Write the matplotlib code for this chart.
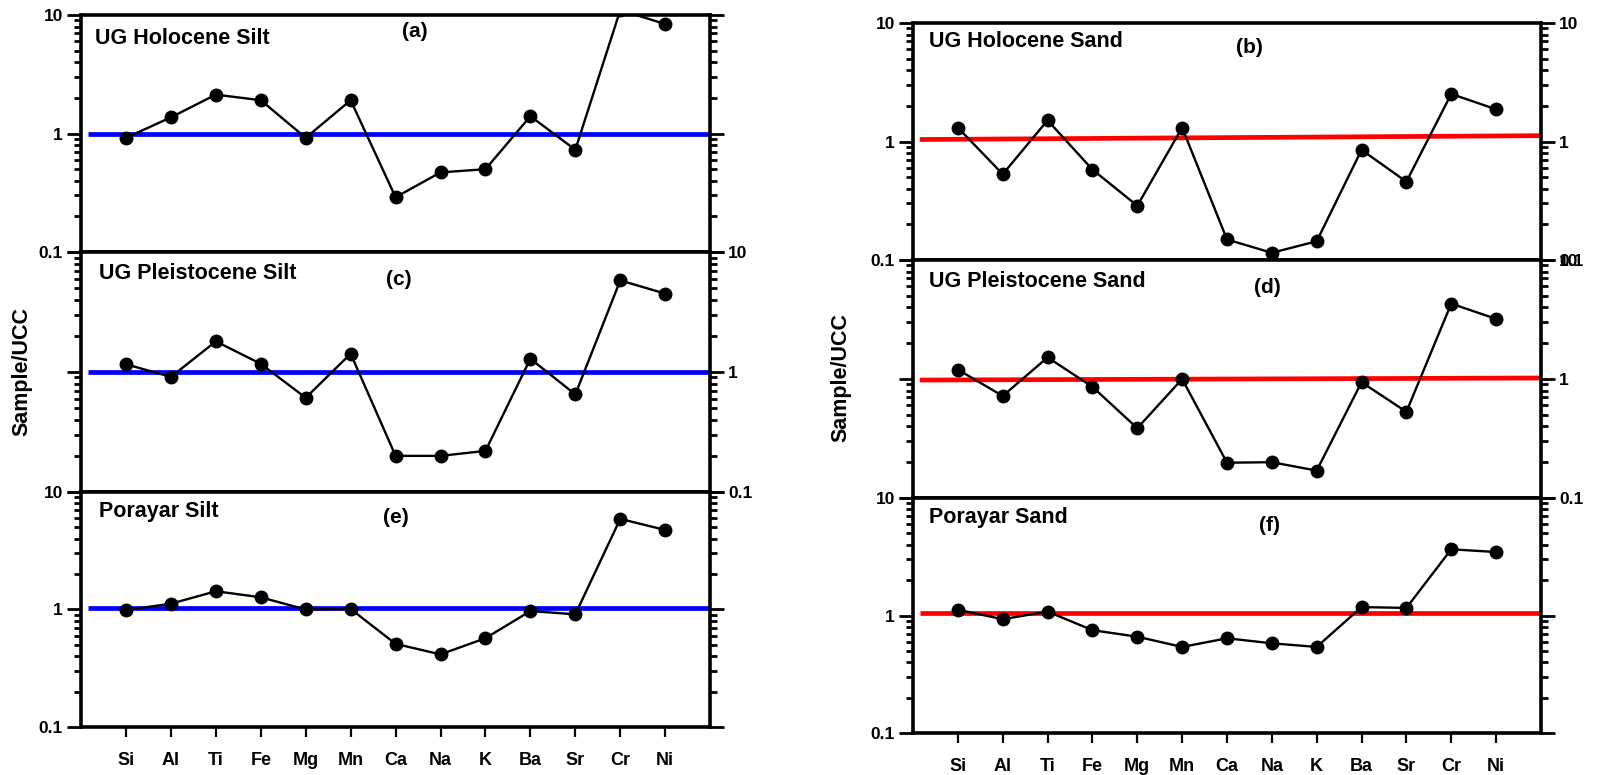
import matplotlib.pyplot as plt
from matplotlib.ticker import LogLocator, NullFormatter
import numpy as np

plt.rcParams['font.family'] = ['Liberation Sans', 'DejaVu Sans']
plt.rcParams['font.weight'] = 'bold'

elements = ['Si', 'Al', 'Ti', 'Fe', 'Mg', 'Mn', 'Ca', 'Na', 'K', 'Ba', 'Sr', 'Cr', 'Ni']

# Sample/UCC ratios
ug_holocene_silt = [0.92, 1.37, 2.13, 1.91, 0.92, 1.91, 0.29, 0.47, 0.50, 1.40, 0.73, 11.0, 8.4]
ug_pleistocene_silt = [1.16, 0.91, 1.80, 1.17, 0.61, 1.42, 0.20, 0.20, 0.22, 1.29, 0.65, 5.8, 4.5]
porayar_silt = [0.99, 1.12, 1.43, 1.27, 1.0, 1.01, 0.51, 0.415, 0.57, 0.97, 0.91, 5.9, 4.75]
ug_holocene_sand = [1.31, 0.53, 1.51, 0.58, 0.287, 1.31, 0.149, 0.115, 0.144, 0.85, 0.458, 2.52, 1.87]
ug_pleistocene_sand = [1.2, 0.72, 1.52, 0.86, 0.386, 1.0, 0.198, 0.2, 0.17, 0.94, 0.53, 4.3, 3.2]
porayar_sand = [1.12, 0.93, 1.08, 0.75, 0.66, 0.54, 0.64, 0.58, 0.54, 1.18, 1.16, 3.66, 3.47]

# UCC reference line (start, end)
ucc_a = [1.0, 1.0]
ucc_c = [1.0, 1.0]
ucc_e = [1.02, 1.02]
ucc_b = [1.04, 1.12]
ucc_d = [0.98, 1.02]
ucc_f = [1.05, 1.05]

fig = plt.figure(figsize=(15.99, 7.75), dpi=100)

# left edge, width in figure fraction
left_col = [0.0507, 0.3934]
right_col = [0.571, 0.3927]
panels = [
    # name, letter, data, ucc, colour, column, bottom, top, labelleft, labelright, xlabels, name pos, letter pos
    ('UG Holocene Silt', '(a)', ug_holocene_silt, ucc_a, 'blue', left_col, 0.6748, 0.9806, True, False, False,
     (0.022, 0.90), (0.53, 0.93)),
    ('UG Pleistocene Silt', '(c)', ug_pleistocene_silt, ucc_c, 'blue', left_col, 0.3652, 0.6748, False, True, False,
     (0.028, 0.91), (0.505, 0.885)),
    ('Porayar Silt', '(e)', porayar_silt, ucc_e, 'blue', left_col, 0.0619, 0.3652, True, False, True,
     (0.028, 0.915), (0.50, 0.89)),
    ('UG Holocene Sand', '(b)', ug_holocene_sand, ucc_b, 'red', right_col, 0.6645, 0.9703, True, True, False,
     (0.025, 0.924), (0.535, 0.895)),
    ('UG Pleistocene Sand', '(d)', ug_pleistocene_sand, ucc_d, 'red', right_col, 0.3574, 0.6645, False, True, False,
     (0.025, 0.91), (0.565, 0.883)),
    ('Porayar Sand', '(f)', porayar_sand, ucc_f, 'red', right_col, 0.0542, 0.3574, True, False, True,
     (0.025, 0.915), (0.568, 0.885)),
]

x = np.arange(len(elements))

for name, letter, vals, ucc, col, column, bot, top, lab_l, lab_r, xlab, name_pos, let_pos in panels:
    ax = fig.add_axes([column[0], bot, column[1], top - bot])
    ax.plot([-0.85, 13], ucc, color=col, lw=3.4, solid_capstyle='butt', zorder=2)
    ax.plot(x, vals, color='black', lw=1.7, marker='o', ms=9, zorder=3)
    ax.set_yscale('log')
    ax.set_ylim(0.1, 10)
    ax.set_xlim(-1, 13)
    ax.set_yticks([0.1, 1, 10])
    ax.set_yticklabels(['0.1', '1', '10'])
    ax.yaxis.set_minor_locator(LogLocator(base=10, subs=np.arange(2, 10)))
    ax.yaxis.set_minor_formatter(NullFormatter())
    ax.tick_params(axis='y', which='both', direction='out', left=True, right=True,
                   labelleft=lab_l, labelright=lab_r, width=2, labelsize=12.5, pad=3)
    ax.tick_params(axis='y', which='major', length=10)
    ax.tick_params(axis='y', which='minor', length=5)
    if xlab:
        ax.set_xticks(x)
        ax.set_xticklabels(elements)
        ax.tick_params(axis='x', direction='out', length=7, width=1.6, labelsize=13, pad=11)
    else:
        ax.set_xticks([])
    for s in ax.spines.values():
        s.set_linewidth(2.6)
    ax.text(name_pos[0], name_pos[1], name, transform=ax.transAxes, fontsize=15.5,
            fontweight='bold', ha='left', va='center')
    ax.text(let_pos[0], let_pos[1], letter, transform=ax.transAxes, fontsize=15,
            fontweight='bold', ha='center', va='center')

fig.text(0.014, 0.52, 'Sample/UCC', rotation=90, fontsize=15.5, fontweight='bold',
         ha='center', va='center')
fig.text(0.526, 0.513, 'Sample/UCC', rotation=90, fontsize=15.5, fontweight='bold',
         ha='center', va='center')

fig.savefig('out.png', dpi=100)
